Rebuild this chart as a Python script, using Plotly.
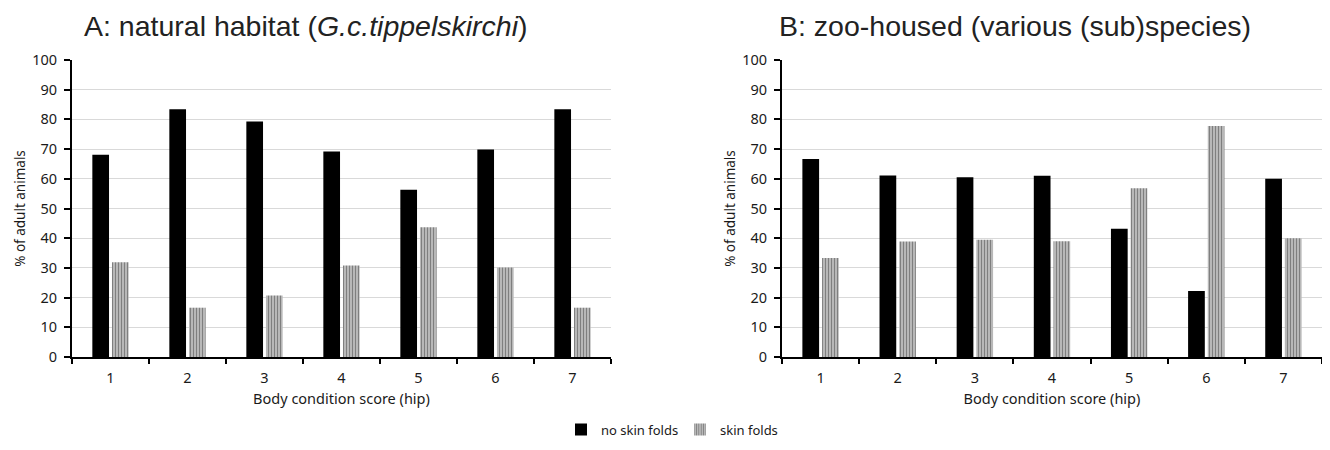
import plotly.graph_objects as go

categories = ["1", "2", "3", "4", "5", "6", "7"]
a_no_folds = [68.1, 83.4, 79.3, 69.2, 56.3, 69.9, 83.4]
a_folds = [31.9, 16.6, 20.7, 30.8, 43.7, 30.1, 16.6]
b_no_folds = [66.7, 61.1, 60.5, 61.0, 43.2, 22.2, 60.0]
b_folds = [33.3, 38.9, 39.5, 39.0, 56.8, 77.8, 40.0]
y_ticks = [0, 10, 20, 30, 40, 50, 60, 70, 80, 90, 100]

FONT = "Noto Sans"
TITLE_FONT = "Liberation Sans"

stripe = dict(shape="|", fgcolor="#3a3a3a", bgcolor="#c4c4c4", size=3, solidity=0.45)

fig = go.Figure()
fig.add_trace(go.Bar(x=categories, y=a_no_folds, name="no skin folds", marker=dict(color="black", line=dict(width=0)),
                     xaxis="x", yaxis="y", legendgroup="a"))
fig.add_trace(go.Bar(x=categories, y=a_folds, name="skin folds", marker=dict(color="#c4c4c4", pattern=stripe, line=dict(width=0)),
                     xaxis="x", yaxis="y", legendgroup="b"))
fig.add_trace(go.Bar(x=categories, y=b_no_folds, name="no skin folds", marker=dict(color="black", line=dict(width=0)),
                     xaxis="x2", yaxis="y2", showlegend=False, legendgroup="a"))
fig.add_trace(go.Bar(x=categories, y=b_folds, name="skin folds", marker=dict(color="#c4c4c4", pattern=stripe, line=dict(width=0)),
                     xaxis="x2", yaxis="y2", showlegend=False, legendgroup="b"))

# page has an 8px body margin, so the figure is 1314x434 and offset by 8px
OFF = 8
W, H = 1330 - 2 * OFF, 450 - 2 * OFF
ydom = [(H - (357 - OFF)) / H, (H - (60 - OFF)) / H]

TXT = "#1a1a1a"
xcommon = dict(type="category", showline=True, linecolor="black", linewidth=2, ticks="outside", tickson="boundaries",
               ticklen=5, tickwidth=2, tickcolor="black", showgrid=False, automargin=False,
               ticklabelstandoff=7,
               tickfont=dict(family=FONT, size=14.5, color=TXT),
               title=dict(text="Body condition score (hip)", font=dict(family=FONT, size=14.5, color=TXT), standoff=7))
ycommon = dict(range=[0, 100], tickvals=y_ticks, showline=True, linecolor="black", linewidth=2, ticks="outside",
               ticklen=6, tickwidth=2, tickcolor="black", showgrid=True, gridcolor="#d9d9d9", gridwidth=1,
               automargin=False, ticklabelstandoff=4, tickfont=dict(family=FONT, size=14.5, color=TXT), zeroline=False,
               title=dict(text="% of adult animals", font=dict(family=FONT, size=13.5, color=TXT), standoff=3))

fig.update_layout(
    width=W, height=H,
    margin=dict(l=0, r=0, t=0, b=0, pad=0, autoexpand=False),
    plot_bgcolor="white", paper_bgcolor="white",
    barmode="group", bargap=0.49, bargroupgap=0.15,
    xaxis=dict(domain=[(72 - OFF) / W, (611 - OFF) / W], anchor="y", **xcommon),
    yaxis=dict(domain=ydom, anchor="x", **ycommon),
    xaxis2=dict(domain=[(782 - OFF) / W, min(1.0, (1322 - OFF) / W)], anchor="y2", **xcommon),
    yaxis2=dict(domain=ydom, anchor="x2", **ycommon),
    legend=dict(orientation="h", x=(680 - OFF) / W, xanchor="center", y=-0.006, yanchor="bottom",
                font=dict(family=FONT, size=13, color=TXT), itemwidth=30, traceorder="normal",
                tracegroupgap=0, entrywidth=74),
    annotations=[
        dict(text="A: natural habitat (<i>G.c.tippelskirchi</i>)", x=(85 - OFF - 3) / W, y=(H - 18) / H,
             xref="paper", yref="paper", xanchor="left", yanchor="middle", showarrow=False,
             font=dict(family=TITLE_FONT, size=28.5, color="#222")),
        dict(text="B: zoo-housed (various (sub)species)", x=(780 - OFF - 3) / W, y=(H - 18) / H,
             xref="paper", yref="paper", xanchor="left", yanchor="middle", showarrow=False,
             font=dict(family=TITLE_FONT, size=28.5, color="#222")),
    ],
)

fig.write_html("out.html")
